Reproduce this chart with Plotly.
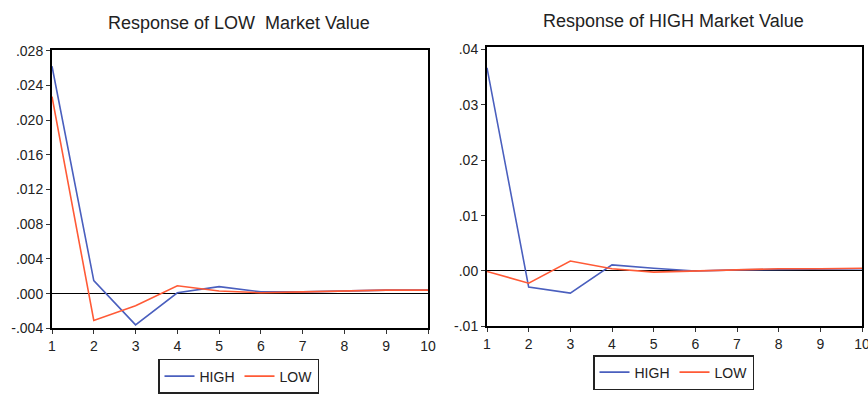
import plotly.graph_objects as go

W, H = 868, 394

# Impulse-response horizons
periods = [1, 2, 3, 4, 5, 6, 7, 8, 9, 10]

# Response of LOW market value to shocks in HIGH and LOW
low_resp_high = [0.0262, 0.0015, -0.0036, 0.0001, 0.0008, 0.0002, 0.0002, 0.0003, 0.0004, 0.0004]
low_resp_low = [0.0227, -0.0031, -0.0014, 0.0009, 0.0003, 0.0001, 0.0002, 0.0003, 0.0004, 0.0004]

# Response of HIGH market value to shocks in HIGH and LOW
high_resp_high = [0.0367, -0.0029, -0.0040, 0.0011, 0.0005, 0.0000, 0.0002, 0.0003, 0.0003, 0.0004]
high_resp_low = [-0.0001, -0.0022, 0.0018, 0.0004, -0.0002, 0.0000, 0.0003, 0.0004, 0.0004, 0.0005]

left_ticks = [-0.004, 0.000, 0.004, 0.008, 0.012, 0.016, 0.020, 0.024, 0.028]
left_labels = ["-.004", ".000", ".004", ".008", ".012", ".016", ".020", ".024", ".028"]
right_ticks = [-0.01, 0.00, 0.01, 0.02, 0.03, 0.04]
right_labels = ["-.01", ".00", ".01", ".02", ".03", ".04"]

titles = ["Response of LOW  Market Value", "Response of HIGH Market Value"]

BLUE = "#4a5fbe"
RED = "#ff5a36"
FONT = "Liberation Sans, Arial, sans-serif"


def px_x(a, b):
    return [a / W, b / W]


def px_y(top, bottom):
    return [1 - bottom / H, 1 - top / H]


fig = go.Figure()

fig.add_trace(go.Scatter(x=periods, y=low_resp_high, mode="lines", name="HIGH",
                         line=dict(color=BLUE, width=1.6), xaxis="x", yaxis="y",
                         legend="legend"))
fig.add_trace(go.Scatter(x=periods, y=low_resp_low, mode="lines", name="LOW",
                         line=dict(color=RED, width=1.6), xaxis="x", yaxis="y",
                         legend="legend"))
fig.add_trace(go.Scatter(x=periods, y=high_resp_high, mode="lines", name="HIGH",
                         line=dict(color=BLUE, width=1.6), xaxis="x2", yaxis="y2",
                         legend="legend2"))
fig.add_trace(go.Scatter(x=periods, y=high_resp_low, mode="lines", name="LOW",
                         line=dict(color=RED, width=1.6), xaxis="x2", yaxis="y2",
                         legend="legend2"))

axis_common = dict(showline=True, linecolor="black", linewidth=2, mirror=True,
                   ticks="outside", ticklen=4, tickcolor="#333", tickwidth=1,
                   showgrid=False, automargin=False, ticklabeloverflow="allow",
                   tickfont=dict(family=FONT, size=14, color="#222"))

legend_common = dict(orientation="h", xanchor="left", yanchor="bottom",
                     bordercolor="#222", borderwidth=1.5, bgcolor="white",
                     font=dict(family=FONT, size=14, color="#222"), itemwidth=30,
                     tracegroupgap=0)

fig.update_layout(
    width=W, height=H,
    margin=dict(l=0, r=0, t=0, b=0),
    paper_bgcolor="white", plot_bgcolor="white",
    font=dict(family=FONT, color="#222"),
    xaxis=dict(domain=px_x(52, 428), range=[1, 10], tickvals=periods,
               anchor="y", zeroline=False, **axis_common),
    yaxis=dict(domain=px_y(50, 330), range=[-0.004, 0.0281], tickvals=left_ticks,
               ticktext=left_labels, anchor="x", zeroline=True,
               zerolinecolor="black", zerolinewidth=1.2, **axis_common),
    xaxis2=dict(domain=px_x(487, 862), range=[1, 10], tickvals=periods,
                anchor="y2", zeroline=False, **axis_common),
    yaxis2=dict(domain=px_y(47, 328), range=[-0.01, 0.0405], tickvals=right_ticks,
                ticktext=right_labels, anchor="x2", zeroline=True,
                zerolinecolor="black", zerolinewidth=1.2, **axis_common),
    legend=dict(x=158 / W, y=1 - 396 / H, **legend_common),
    legend2=dict(x=593 / W, y=1 - 392 / H, **legend_common),
    showlegend=True,
)

for cx, cy, text in [(239, 23, titles[0]), (673, 21, titles[1])]:
    fig.add_annotation(x=cx / W, y=1 - cy / H, xref="paper", yref="paper",
                       text=text, showarrow=False, xanchor="center", yanchor="middle",
                       font=dict(family=FONT, size=18, color="#222"))

fig.write_html("out.html")
